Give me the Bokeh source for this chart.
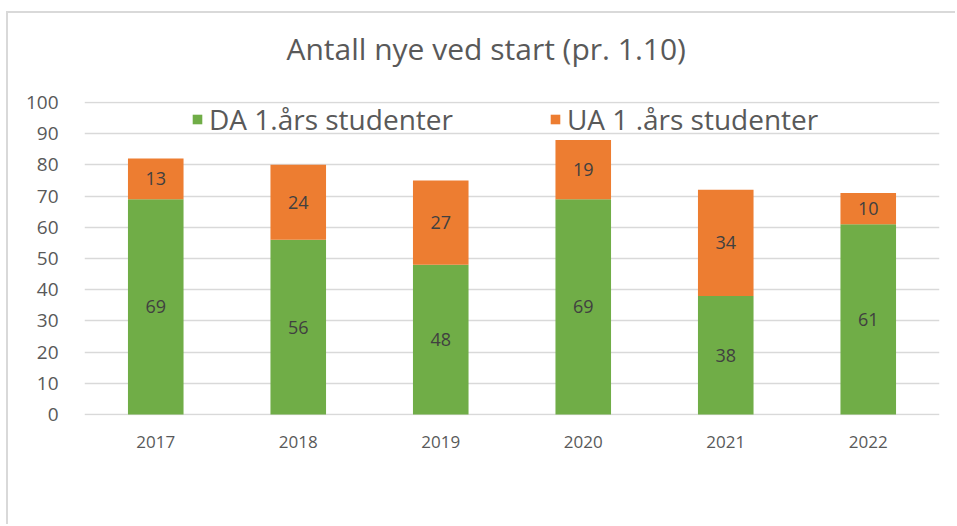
from bokeh.plotting import figure
from bokeh.models import (ColumnDataSource, LabelSet, Legend, LegendItem,
                          FactorRange, Range1d, Title)
from bokeh.embed import file_html
from bokeh.resources import INLINE
from bokeh.core.properties import value

# ---- data ----
years = ["2017", "2018", "2019", "2020", "2021", "2022"]
da_values = [69, 56, 48, 69, 38, 61]
ua_values = [13, 24, 27, 19, 34, 10]
series_names = ["DA 1.års studenter", "UA 1 .års studenter"]
series_colors = ["#70AD47", "#ED7D31"]
y_ticks = [0, 10, 20, 30, 40, 50, 60, 70, 80, 90, 100]
title_text = "Antall nye ved start (pr. 1.10)"

FONT = "Open Sans"
TEXT_GREY = "#595959"

source = ColumnDataSource(dict(
    year=years,
    da=da_values,
    ua=ua_values,
    da_mid=[v / 2 for v in da_values],
    ua_mid=[d + u / 2 for d, u in zip(da_values, ua_values)],
    da_text=[str(v) for v in da_values],
    ua_text=[str(v) for v in ua_values],
))

p = figure(x_range=FactorRange(*years), y_range=Range1d(-0.3, 100.3),
           width=949, height=513, output_backend="svg", toolbar_location=None,
           min_border_left=76, min_border_right=18,
           min_border_top=88, min_border_bottom=111,
           title=None)
p.styles = {"margin-left": "6px", "margin-top": "11px",
            "border-left": "2px solid #D9D9D9", "border-top": "2px solid #D9D9D9"}
p.outline_line_color = None
p.background_fill_color = "white"
p.border_fill_color = "white"

# spacer between plot area and title, then the title itself
p.add_layout(Title(text=" ", text_font_size="1px", standoff=30), "above")
p.add_layout(Title(text=title_text, text_font=FONT, text_font_size="30px",
                   text_font_style="normal", text_color=TEXT_GREY,
                   align="left", offset=202, standoff=0), "above")

for ax in (p.xaxis, p.yaxis):
    ax.axis_line_color = None
    ax.major_tick_line_color = None
    ax.minor_tick_line_color = None
    ax.major_label_text_font = FONT
    ax.major_label_text_color = TEXT_GREY
p.xaxis.major_label_text_font_size = "17px"
p.yaxis.major_label_text_font_size = "19px"
p.xaxis.major_label_standoff = 14
p.yaxis.major_label_standoff = 20
p.yaxis.ticker = y_ticks

p.xgrid.grid_line_color = None
p.ygrid.grid_line_color = "#D9D9D9"
p.ygrid.grid_line_width = 1.5

renderers = p.vbar_stack(["da", "ua"], x="year", width=0.39, color=series_colors,
                         line_color=None, source=source)

for ycol, tcol in (("da_mid", "da_text"), ("ua_mid", "ua_text")):
    p.add_layout(LabelSet(x="year", y=ycol, text=tcol, source=source,
                          text_align="center", text_baseline="middle",
                          text_font=value(FONT), text_font_size=value("18px"),
                          text_color="#404040"))

legend = Legend(items=[LegendItem(label=series_names[0], renderers=[renderers[0]]),
                       LegendItem(label=series_names[1], renderers=[renderers[1]])],
                orientation="horizontal", location=(107, 276),
                padding=0, margin=0, spacing=96,
                glyph_width=12, glyph_height=12, label_standoff=6,
                label_height=40,
                label_text_font=FONT, label_text_font_size="28px",
                label_text_color=TEXT_GREY,
                border_line_color=None, background_fill_alpha=0)
p.add_layout(legend)

open("out.html", "w").write(file_html(p, INLINE))
